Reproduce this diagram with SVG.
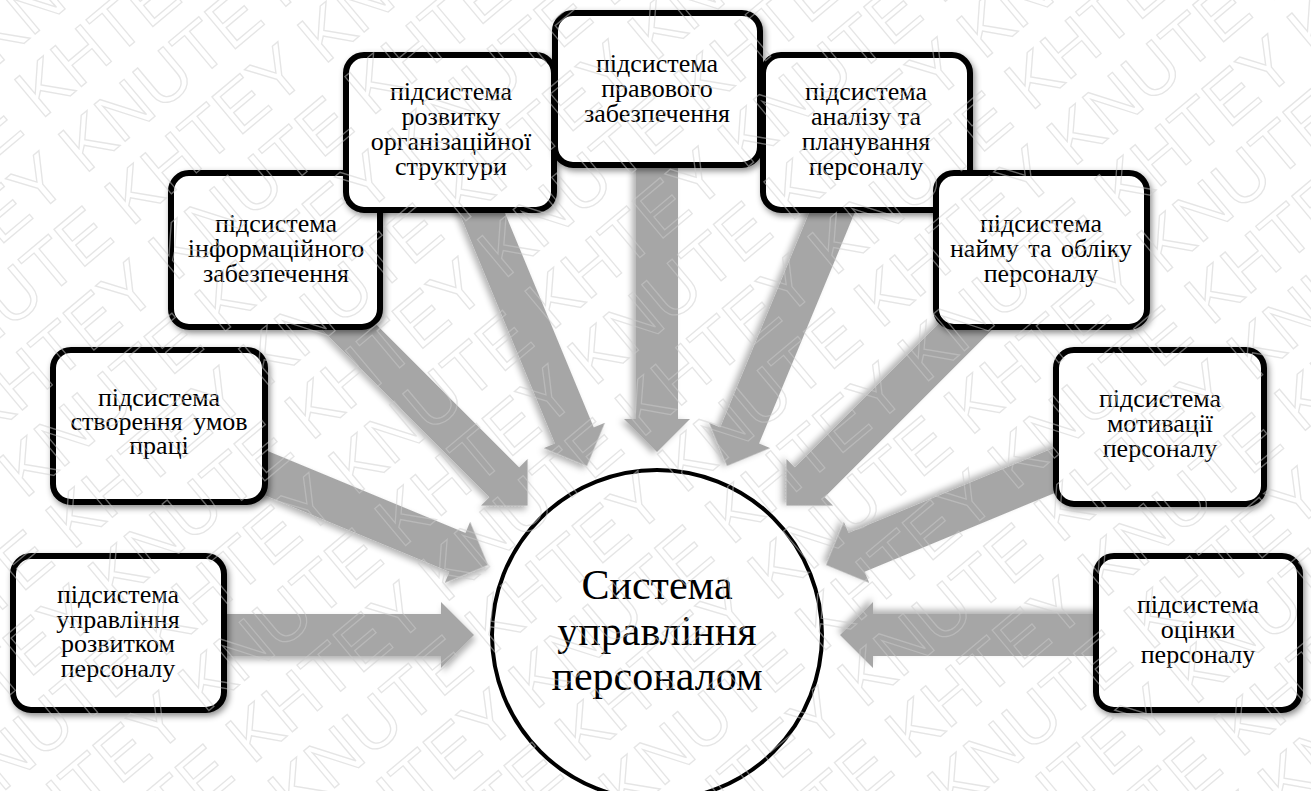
<svg xmlns="http://www.w3.org/2000/svg" width="1311" height="791" viewBox="0 0 1311 791">
<defs>
<style>
.box{fill:#ffffff;stroke:#000000;stroke-width:6;filter:url(#shadow)}
.lbl{font-family:"Liberation Serif","DejaVu Serif",serif;font-size:26px;fill:#000000;text-anchor:middle}
.big{font-family:"Liberation Serif","DejaVu Serif",serif;font-size:42px;fill:#000000;text-anchor:middle}
.arrow{fill:#a6a6a6;filter:url(#ashadow)}
.wm{font-family:"Liberation Sans",Arial,sans-serif;font-size:70px;fill:none;stroke:#cccccc;stroke-width:1.3;stroke-opacity:0.5}
</style>
<filter id="shadow" x="-20%" y="-20%" width="140%" height="140%">
<feDropShadow dx="2" dy="3" stdDeviation="3" flood-color="#000000" flood-opacity="0.45"/>
</filter>
<filter id="ashadow" x="-20%" y="-20%" width="140%" height="140%">
<feDropShadow dx="2" dy="4" stdDeviation="3" flood-color="#000000" flood-opacity="0.3"/>
</filter>
<path id="arr" d="M -183 0 L -216 -33 L -216 -21 L -480 -21 L -480 21 L -216 21 L -216 33 Z"/>
</defs>
<rect x="0" y="0" width="1311" height="791" fill="#ffffff"/>

<g id="connectors" transform="translate(657 635)">
<use href="#arr" class="arrow" transform="rotate(0)"/>
<use href="#arr" class="arrow" transform="rotate(22.5)"/>
<use href="#arr" class="arrow" transform="rotate(45)"/>
<use href="#arr" class="arrow" transform="rotate(67.5)"/>
<use href="#arr" class="arrow" transform="rotate(90)"/>
<use href="#arr" class="arrow" transform="rotate(112.5)"/>
<use href="#arr" class="arrow" transform="rotate(135)"/>
<use href="#arr" class="arrow" transform="rotate(157.5)"/>
<use href="#arr" class="arrow" transform="rotate(180)"/>
</g>

<g id="center" font-family="'Liberation Serif', 'DejaVu Serif', serif">
<circle cx="657" cy="635" r="165" fill="#ffffff" stroke="#000000" stroke-width="4"/>
<text class="big" x="657" y="599">Система</text>
<text class="big" x="657" y="645">управління</text>
<text class="big" x="657" y="690">персоналом</text>
</g>

<g id="n1" font-family="'Liberation Serif', 'DejaVu Serif', serif">
<rect class="box" x="13" y="556" width="211" height="154" rx="18"/>
<text class="lbl" x="118" y="603">підсистема</text>
<text class="lbl" x="118" y="628">управління</text>
<text class="lbl" x="118" y="652">розвитком</text>
<text class="lbl" x="118" y="677">персоналу</text>
</g>
<g id="n2" font-family="'Liberation Serif', 'DejaVu Serif', serif">
<rect class="box" x="53" y="350" width="212" height="152" rx="18"/>
<text class="lbl" x="159" y="406">підсистема</text>
<text class="lbl" x="159" y="430" word-spacing="4">створення умов</text>
<text class="lbl" x="159" y="454">праці</text>
</g>
<g id="n3" font-family="'Liberation Serif', 'DejaVu Serif', serif">
<rect class="box" x="171" y="173" width="209" height="154" rx="18"/>
<text class="lbl" x="276" y="232">підсистема</text>
<text class="lbl" x="276" y="257">інформаційного</text>
<text class="lbl" x="276" y="282">забезпечення</text>
</g>
<g id="n4" font-family="'Liberation Serif', 'DejaVu Serif', serif">
<rect class="box" x="346" y="55" width="208" height="155" rx="18"/>
<text class="lbl" x="451" y="100">підсистема</text>
<text class="lbl" x="451" y="125">розвитку</text>
<text class="lbl" x="451" y="150">організаційної</text>
<text class="lbl" x="451" y="175">структури</text>
</g>
<g id="n5" font-family="'Liberation Serif', 'DejaVu Serif', serif">
<rect class="box" x="555" y="13" width="205" height="152" rx="18"/>
<text class="lbl" x="657" y="72">підсистема</text>
<text class="lbl" x="657" y="97">правового</text>
<text class="lbl" x="657" y="122">забезпечення</text>
</g>
<g id="n6" font-family="'Liberation Serif', 'DejaVu Serif', serif">
<rect class="box" x="763" y="55" width="207" height="155" rx="18"/>
<text class="lbl" x="866" y="100">підсистема</text>
<text class="lbl" x="866" y="125">аналізу та</text>
<text class="lbl" x="866" y="150">планування</text>
<text class="lbl" x="866" y="175">персоналу</text>
</g>
<g id="n7" font-family="'Liberation Serif', 'DejaVu Serif', serif">
<rect class="box" x="936" y="173" width="211" height="154" rx="18"/>
<text class="lbl" x="1041" y="232">підсистема</text>
<text class="lbl" x="1041" y="257" word-spacing="3">найму та обліку</text>
<text class="lbl" x="1041" y="282">персоналу</text>
</g>
<g id="n8" font-family="'Liberation Serif', 'DejaVu Serif', serif">
<rect class="box" x="1056" y="350" width="208" height="154" rx="18"/>
<text class="lbl" x="1160" y="407">підсистема</text>
<text class="lbl" x="1160" y="432">мотивації</text>
<text class="lbl" x="1160" y="457">персоналу</text>
</g>
<g id="n9" font-family="'Liberation Serif', 'DejaVu Serif', serif">
<rect class="box" x="1096" y="556" width="204" height="154" rx="18"/>
<text class="lbl" x="1198" y="613">підсистема</text>
<text class="lbl" x="1198" y="638">оцінки</text>
<text class="lbl" x="1198" y="663">персоналу</text>
</g>

<g id="watermark" transform="rotate(-40 655 395)">
<text class="wm" x="-400" y="-420">KHTEY KNUTE KHTEY KNUTE KHTEY KNUTE KHTEY KNUTE KHTEY KNUTE</text>
<text class="wm" x="-655" y="-350">KHTEY KNUTE KHTEY KNUTE KHTEY KNUTE KHTEY KNUTE KHTEY KNUTE</text>
<text class="wm" x="-400" y="-280">KHTEY KNUTE KHTEY KNUTE KHTEY KNUTE KHTEY KNUTE KHTEY KNUTE</text>
<text class="wm" x="-655" y="-210">KHTEY KNUTE KHTEY KNUTE KHTEY KNUTE KHTEY KNUTE KHTEY KNUTE</text>
<text class="wm" x="-400" y="-140">KHTEY KNUTE KHTEY KNUTE KHTEY KNUTE KHTEY KNUTE KHTEY KNUTE</text>
<text class="wm" x="-655" y="-70">KHTEY KNUTE KHTEY KNUTE KHTEY KNUTE KHTEY KNUTE KHTEY KNUTE</text>
<text class="wm" x="-400" y="0">KHTEY KNUTE KHTEY KNUTE KHTEY KNUTE KHTEY KNUTE KHTEY KNUTE</text>
<text class="wm" x="-655" y="70">KHTEY KNUTE KHTEY KNUTE KHTEY KNUTE KHTEY KNUTE KHTEY KNUTE</text>
<text class="wm" x="-400" y="140">KHTEY KNUTE KHTEY KNUTE KHTEY KNUTE KHTEY KNUTE KHTEY KNUTE</text>
<text class="wm" x="-655" y="210">KHTEY KNUTE KHTEY KNUTE KHTEY KNUTE KHTEY KNUTE KHTEY KNUTE</text>
<text class="wm" x="-400" y="280">KHTEY KNUTE KHTEY KNUTE KHTEY KNUTE KHTEY KNUTE KHTEY KNUTE</text>
<text class="wm" x="-655" y="350">KHTEY KNUTE KHTEY KNUTE KHTEY KNUTE KHTEY KNUTE KHTEY KNUTE</text>
<text class="wm" x="-400" y="420">KHTEY KNUTE KHTEY KNUTE KHTEY KNUTE KHTEY KNUTE KHTEY KNUTE</text>
<text class="wm" x="-655" y="490">KHTEY KNUTE KHTEY KNUTE KHTEY KNUTE KHTEY KNUTE KHTEY KNUTE</text>
<text class="wm" x="-400" y="560">KHTEY KNUTE KHTEY KNUTE KHTEY KNUTE KHTEY KNUTE KHTEY KNUTE</text>
<text class="wm" x="-655" y="630">KHTEY KNUTE KHTEY KNUTE KHTEY KNUTE KHTEY KNUTE KHTEY KNUTE</text>
<text class="wm" x="-400" y="700">KHTEY KNUTE KHTEY KNUTE KHTEY KNUTE KHTEY KNUTE KHTEY KNUTE</text>
<text class="wm" x="-655" y="770">KHTEY KNUTE KHTEY KNUTE KHTEY KNUTE KHTEY KNUTE KHTEY KNUTE</text>
<text class="wm" x="-400" y="840">KHTEY KNUTE KHTEY KNUTE KHTEY KNUTE KHTEY KNUTE KHTEY KNUTE</text>
<text class="wm" x="-655" y="910">KHTEY KNUTE KHTEY KNUTE KHTEY KNUTE KHTEY KNUTE KHTEY KNUTE</text>
<text class="wm" x="-400" y="980">KHTEY KNUTE KHTEY KNUTE KHTEY KNUTE KHTEY KNUTE KHTEY KNUTE</text>
<text class="wm" x="-655" y="1050">KHTEY KNUTE KHTEY KNUTE KHTEY KNUTE KHTEY KNUTE KHTEY KNUTE</text>
<text class="wm" x="-400" y="1120">KHTEY KNUTE KHTEY KNUTE KHTEY KNUTE KHTEY KNUTE KHTEY KNUTE</text>
<text class="wm" x="-655" y="1190">KHTEY KNUTE KHTEY KNUTE KHTEY KNUTE KHTEY KNUTE KHTEY KNUTE</text>
</g>
</svg>
